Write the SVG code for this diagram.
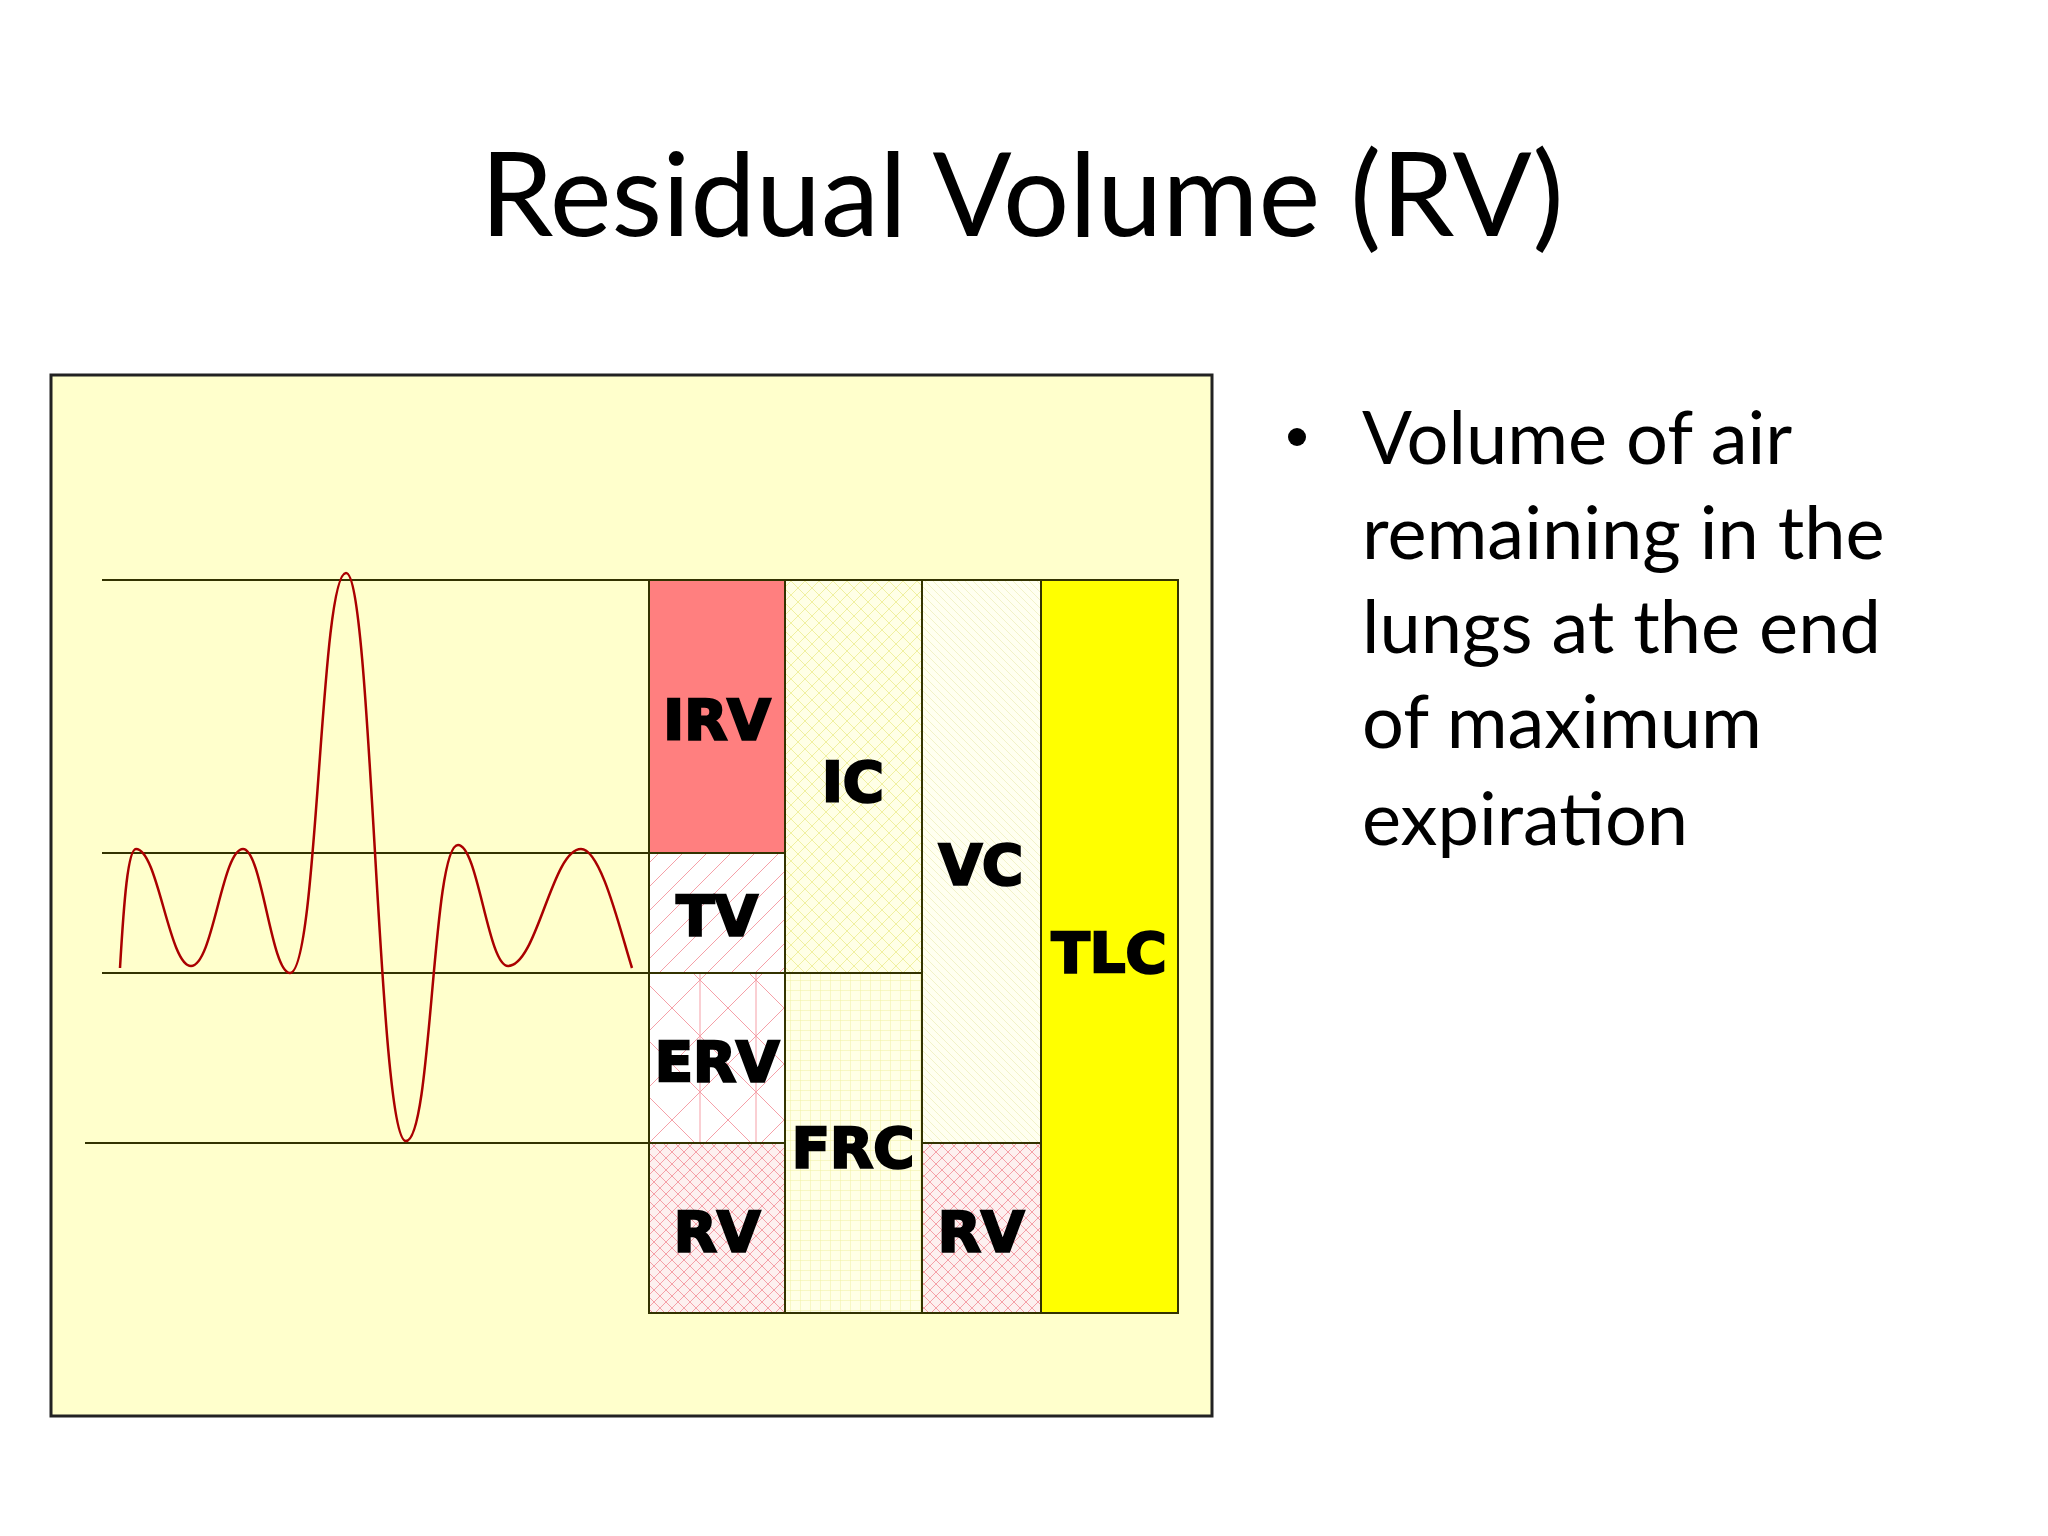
<svg xmlns="http://www.w3.org/2000/svg" width="2048" height="1536" viewBox="0 0 2048 1536">
<style>
.lbl{font-family:"Arial Black","DejaVu Sans",sans-serif;font-weight:900;font-size:56px;text-anchor:middle;fill:#000;stroke:#000;stroke-width:2.5}
.box{stroke:#333300;stroke-width:2}
.hl{stroke:#333300;stroke-width:2}
.body{font-family:Lato,"Open Sans",sans-serif;font-size:74px;fill:#000}
</style>
<defs>
<pattern id="pDiag" width="24" height="24" patternUnits="userSpaceOnUse"><rect width="24" height="24" fill="#fff"/><path d="M0 24L24 0" stroke="#f5a0a8" stroke-width="1"/></pattern>
<pattern id="pErv" width="56" height="56" patternUnits="userSpaceOnUse"><rect width="56" height="56" fill="#fff"/><path d="M0 56L56 0M0 0L56 56M28 0V56" stroke="#f5a0a8" stroke-width="1"/></pattern>
<pattern id="pRv" width="12" height="12" patternUnits="userSpaceOnUse"><rect width="12" height="12" fill="#fdf0f0"/><path d="M0 12L12 0M0 0L12 12" stroke="#f5a0a8" stroke-width="1"/></pattern>
<pattern id="pIc" width="14" height="14" patternUnits="userSpaceOnUse"><rect width="14" height="14" fill="#ffffe6"/><path d="M0 14L14 0M0 0L14 14" stroke="#f0f0a0" stroke-width="1"/></pattern>
<pattern id="pFrc" width="10" height="10" patternUnits="userSpaceOnUse"><rect width="10" height="10" fill="#ffffe6"/><path d="M0 0H10M0 0V10" stroke="#f0f0a0" stroke-width="1"/></pattern>
<pattern id="pVc" width="8" height="8" patternUnits="userSpaceOnUse"><rect width="8" height="8" fill="#fffff0"/><path d="M0 0L8 8" stroke="#f2f2c8" stroke-width="1"/></pattern>
</defs>
<rect width="2048" height="1536" fill="#fff"/>
<text x="1022" y="236" font-family="Lato,'Open Sans',sans-serif" font-size="117" text-anchor="middle">Residual Volume (RV)</text>
<rect x="51" y="375" width="1161" height="1041" fill="#FFFFCC" stroke="#222" stroke-width="3"/>
<g id="lines">
<line class="hl" x1="102" y1="580" x2="649" y2="580"/>
<line class="hl" x1="102" y1="853" x2="649" y2="853"/>
<line class="hl" x1="102" y1="973" x2="649" y2="973"/>
<line class="hl" x1="85" y1="1143" x2="649" y2="1143"/>
</g>
<path id="wave" fill="none" stroke="#aa0000" stroke-width="2.5" d="M120 968C124 900 128 849 136 849C158 849 169 966 191 966C213 966 222 849 243 849C262 849 271 973 290 973C318 973 320 573 346 573C372 573 378 1141 406 1141C432 1141 432 845 458 845C478 845 488 966 508 966C537 966 552 849 581 849C601 849 620 930 632 968"/>
<g id="IRV"><rect class="box" x="649" y="580" width="136" height="273" fill="#FF7F7F"/><text class="lbl" x="717" y="739">IRV</text></g>
<g id="TV"><rect class="box" x="649" y="853" width="136" height="120" fill="url(#pDiag)"/><text class="lbl" x="717" y="935">TV</text></g>
<g id="ERV"><rect class="box" x="649" y="973" width="136" height="170" fill="url(#pErv)"/><text class="lbl" x="717" y="1081">ERV</text></g>
<g id="RV1"><rect class="box" x="649" y="1143" width="136" height="170" fill="url(#pRv)"/><text class="lbl" x="717" y="1251">RV</text></g>
<g id="IC"><rect class="box" x="785" y="580" width="137" height="393" fill="url(#pIc)"/><text class="lbl" x="853" y="801">IC</text></g>
<g id="FRC"><rect class="box" x="785" y="973" width="137" height="340" fill="url(#pFrc)"/><text class="lbl" x="853" y="1167">FRC</text></g>
<g id="VC"><rect class="box" x="922" y="580" width="119" height="563" fill="url(#pVc)"/><text class="lbl" x="981" y="884">VC</text></g>
<g id="RV2"><rect class="box" x="922" y="1143" width="119" height="170" fill="url(#pRv)"/><text class="lbl" x="981" y="1251">RV</text></g>
<g id="TLC"><rect class="box" x="1041" y="580" width="137" height="733" fill="#FFFF00"/><text class="lbl" x="1109" y="972">TLC</text></g>
<g id="bullet">
<circle cx="1297" cy="437" r="9" fill="#000"/>
<text class="body" x="1362" y="464">Volume of air</text>
<text class="body" x="1362" y="559">remaining in the</text>
<text class="body" x="1362" y="653">lungs at the end</text>
<text class="body" x="1362" y="748">of maximum</text>
<text class="body" x="1362" y="845">expiration</text>
</g>
</svg>
